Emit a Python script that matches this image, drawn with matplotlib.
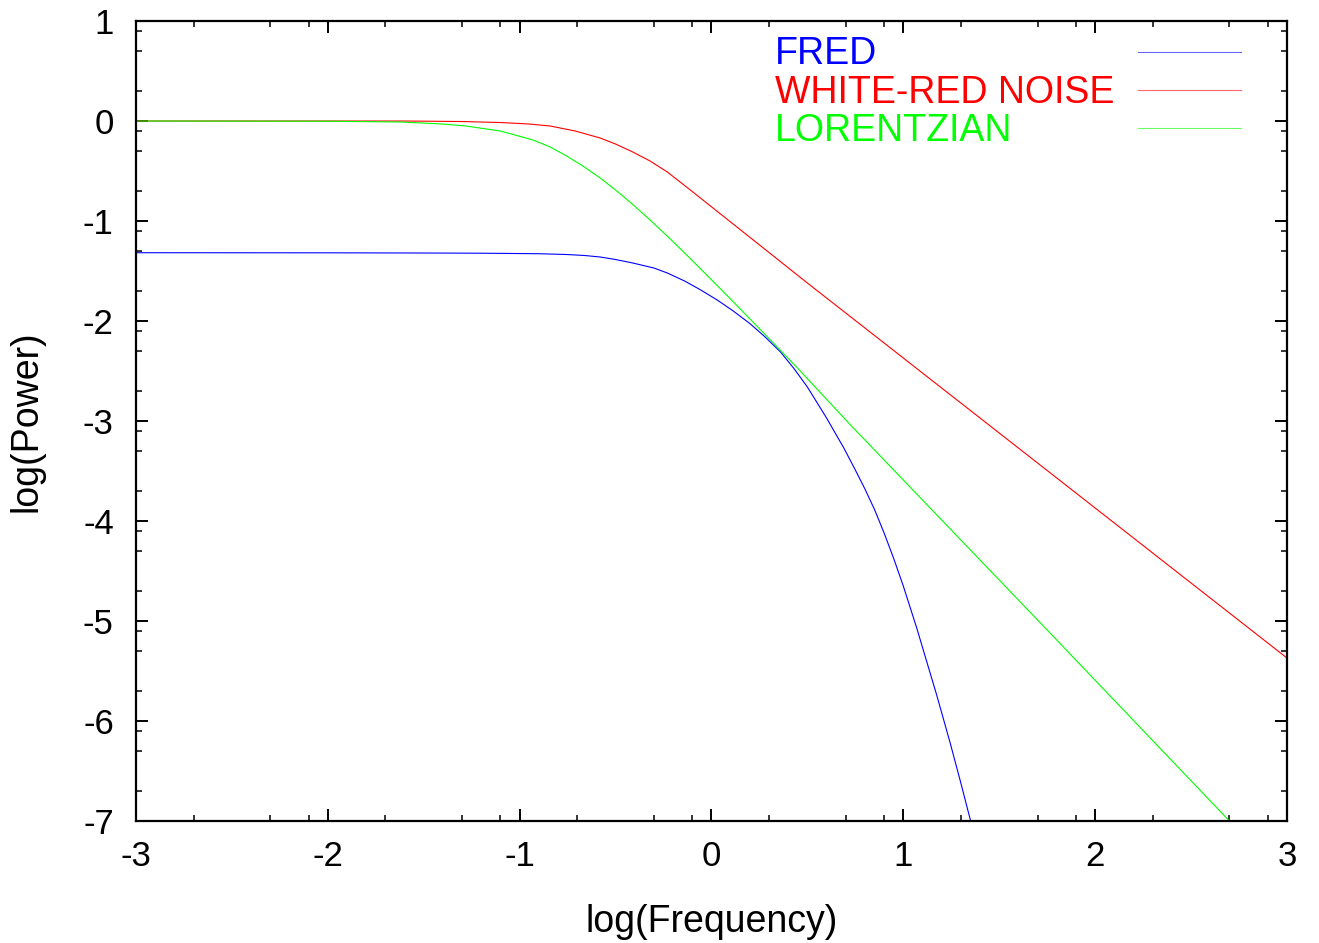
import matplotlib

matplotlib.use("Agg")
import matplotlib.pyplot as plt
import numpy as np

# values (log10 frequency, log10 power)
fred_x = [-3.0, -2.0, -1.5, -1.2, -0.9, -0.755, -0.66, -0.58, -0.5, -0.41,
          -0.3, -0.23, -0.14, -0.06, 0.03, 0.11, 0.2, 0.28, 0.36, 0.43, 0.5,
          0.6, 0.69, 0.75, 0.8, 0.85, 0.9, 0.95, 1.0, 1.07, 1.174, 1.243,
          1.3, 1.351]
fred_y = [-1.317, -1.318, -1.32, -1.322, -1.327, -1.335, -1.345, -1.36,
          -1.385, -1.42, -1.47, -1.52, -1.60, -1.685, -1.79, -1.895, -2.025,
          -2.16, -2.31, -2.475, -2.66, -2.97, -3.27, -3.49, -3.68, -3.885,
          -4.12, -4.375, -4.65, -5.07, -5.74, -6.21, -6.62, -7.0]

wrn_x = [-3.0, -2.0, -1.6, -1.3, -1.1, -0.95, -0.84, -0.71, -0.58, -0.5,
         -0.41, -0.32, -0.23, -0.17, -0.11, 0.5, 1.2, 2.0, 3.0]
wrn_y = [0.0, 0.0, 0.0, -0.005, -0.015, -0.03, -0.05, -0.10, -0.17, -0.23,
         -0.31, -0.40, -0.51, -0.60, -0.69, -1.62, -2.67, -3.87, -5.37]

lor_x = [-3.0, -2.0, -1.62, -1.4, -1.28, -1.1, -0.93, -0.84, -0.755, -0.67,
         -0.58, -0.49, -0.41, -0.32, -0.23, -0.15, -0.06, 0.05, 0.14, 0.2,
         0.3, 0.45, 0.72, 1.0, 1.77, 2.7]
lor_y = [0.0, -0.002, -0.01, -0.03, -0.05, -0.10, -0.19, -0.26, -0.35, -0.45,
         -0.57, -0.705, -0.835, -0.99, -1.152, -1.30, -1.472, -1.684, -1.86,
         -1.978, -2.175, -2.473, -3.03, -3.59, -5.13, -7.0]

labels = ["FRED", "WHITE-RED NOISE", "LORENTZIAN"]
colors = ["#0000ff", "#ff0000", "#00ff00"]

plt.rcParams["font.family"] = ["Liberation Sans", "DejaVu Sans"]

fig = plt.figure(figsize=(13.19, 9.43), dpi=100)
ax = fig.add_axes([0.1031, 0.1294, 0.8726, 0.8483])

series = [(fred_x, fred_y), (wrn_x, wrn_y), (lor_x, lor_y)]
for (x, y), c in zip(series, colors):
    ax.plot(x, y, color=c, lw=0.8)

ax.set_xlim(-3, 3)
ax.set_ylim(-7, 1)
ax.set_xticks(np.arange(-3, 4, 1))
ax.set_yticks(np.arange(-7, 2, 1))
ax.set_xticklabels([str(v) for v in range(-3, 4)])
ax.set_yticklabels([str(v) for v in range(-7, 2)])

# gnuplot-style minor ticks at n+0.3, n+0.7, n+0.9
xminor = [n + d for n in range(-3, 3) for d in (0.3, 0.7, 0.9)]
yminor = [n + d for n in range(-7, 1) for d in (0.3, 0.7, 0.9)]
ax.set_xticks(xminor, minor=True)
ax.set_yticks(yminor, minor=True)

ax.tick_params(which="both", direction="in", top=True, right=True)
ax.tick_params(which="major", length=8.5, width=1.4, labelsize=25)
ax.tick_params(axis="y", which="major", pad=16)
ax.tick_params(axis="x", which="major", pad=14)
ax.tick_params(which="minor", length=4.3, width=1.1)
for s in ax.spines.values():
    s.set_linewidth(1.6)

ax.set_xlabel("log(Frequency)", fontsize=27, labelpad=22)
ax.set_ylabel("log(Power)", fontsize=27, labelpad=28)

# legend: text on the left, sample line on the right
text_y = [0.9459, 0.8975, 0.8504]
line_y = [0.9616, 0.9138, 0.8659]
for lab, c, ty, ly in zip(labels, colors, text_y, line_y):
    ax.text(0.5555, ty, lab, color=c, fontsize=27, transform=ax.transAxes,
            ha="left", va="baseline")
    ax.plot([0.8705, 0.9603], [ly, ly], color=c, lw=0.8, alpha=0.6,
            transform=ax.transAxes)

plt.savefig("out.png", dpi=100)
